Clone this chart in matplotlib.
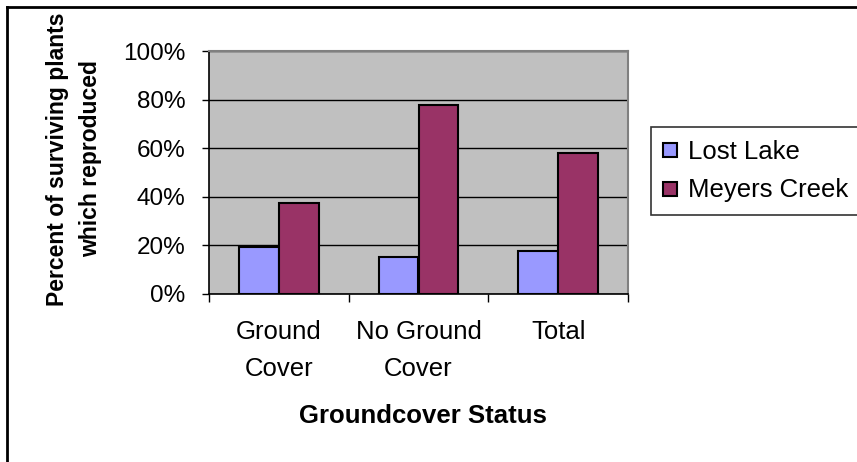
import numpy as np
import matplotlib.pyplot as plt
from matplotlib.lines import Line2D
from matplotlib.ticker import FuncFormatter

plt.rcParams['font.family'] = ['Liberation Sans', 'DejaVu Sans']

categories = ["Ground\nCover", "No Ground\nCover", "Total"]
lost_lake = [19.5, 15.1, 17.9]
meyers_creek = [37.6, 77.7, 58.0]
series_names = ["Lost Lake", "Meyers Creek"]
colors = ['#9999FF', '#993366']

W, H = 857, 462
fig = plt.figure(figsize=(W / 100, H / 100), dpi=100)
fig.patch.set_facecolor('white')

# plot area in pixel coordinates
left, right, top, bottom = 209, 628, 51, 294
ax = fig.add_axes([left / W, 1 - bottom / H, (right - left) / W, (bottom - top) / H])
ax.set_facecolor('#C0C0C0')

x = np.arange(len(categories))
bw = 1 / 3.5
ax.bar(x - bw / 2, lost_lake, bw, color=colors[0], edgecolor='black', linewidth=1.5, zorder=3)
ax.bar(x + bw / 2, meyers_creek, bw, color=colors[1], edgecolor='black', linewidth=1.5, zorder=3)

ax.set_xlim(-0.5, len(categories) - 0.5)
ax.set_ylim(0, 100)
ax.set_yticks(np.arange(0, 101, 20))
ax.yaxis.set_major_formatter(FuncFormatter(lambda v, _: f"{v:.0f}%"))
ax.yaxis.grid(True, color='black', linewidth=1)
ax.set_axisbelow(True)
ax.tick_params(axis='y', direction='out', length=5, width=1, labelsize=17.5, pad=12)

ax.set_xticks(x)
ax.set_xticklabels(categories, fontsize=18.5, linespacing=1.65, va='top')
ax.tick_params(axis='x', length=0, pad=19)
ax.set_xticks(np.arange(-0.5, len(categories)), minor=True)
ax.tick_params(axis='x', which='minor', direction='out', length=6, width=1)

for side in ('top', 'right'):
    ax.spines[side].set_color('#808080')
    ax.spines[side].set_linewidth(1.5)
for side in ('left', 'bottom'):
    ax.spines[side].set_color('black')
    ax.spines[side].set_linewidth(1.2)

fig.text(423 / W, 1 - 416 / H, "Groundcover Status", ha='center', va='center',
         fontsize=18.5, fontweight='bold')
fig.text(74 / W, 1 - 159 / H, "Percent of surviving plants\nwhich reproduced",
         rotation=90, ha='center', va='center', fontsize=16.5, fontweight='bold',
         linespacing=1.6)

handles = [Line2D([], [], marker='s', linestyle='none', markersize=9.5,
                  markerfacecolor=c, markeredgecolor='black', markeredgewidth=1.5)
           for c in colors]
leg = fig.legend(handles, series_names, loc='upper left',
                 bbox_to_anchor=(651 / W, 1 - 127 / H), fontsize=18.5,
                 frameon=True, fancybox=False, handlelength=0.5,
                 handletextpad=0.45, borderpad=0.5, labelspacing=0.57,
                 borderaxespad=0)
leg.get_frame().set_edgecolor('black')
leg.get_frame().set_linewidth(1.2)

# outer chart frame
fig.add_artist(Line2D([7 / W, 7 / W], [0, 1 - 7 / H], transform=fig.transFigure,
                      color='black', linewidth=2))
fig.add_artist(Line2D([7 / W, 1], [1 - 7 / H, 1 - 7 / H], transform=fig.transFigure,
                      color='black', linewidth=2))

fig.savefig("out.png", dpi=100)
